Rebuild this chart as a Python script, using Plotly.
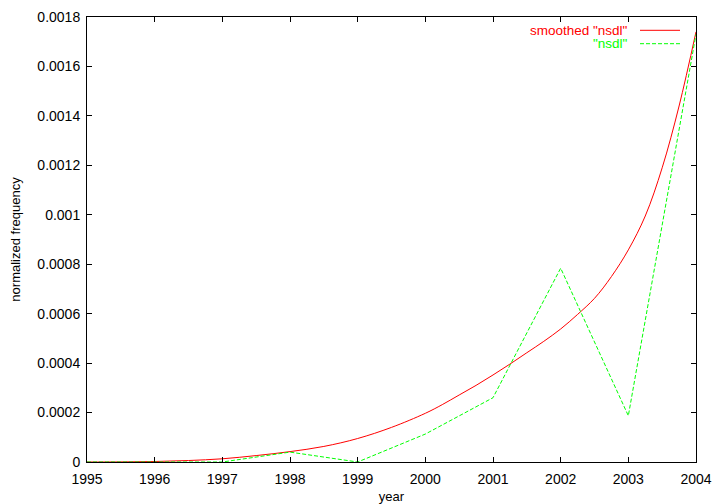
import plotly.graph_objects as go

years = [1995, 1996, 1997, 1998, 1999, 2000, 2001, 2002, 2003, 2004]
nsdl = [0, 0, 0, 0.00004, 0, 0.000113, 0.00026, 0.000784, 0.000187, 0.00173]

smooth_years = [1995, 1995.5, 1996, 1996.5, 1997, 1997.5, 1998, 1998.5, 1999, 1999.5,
                2000, 2000.25, 2000.5, 2000.75, 2001, 2001.25, 2001.5, 2001.75,
                2002, 2002.25, 2002.5, 2002.75, 2003, 2003.25, 2003.5, 2003.75, 2004]
smooth_nsdl = [0, 0.0000005, 0.000002, 0.000006, 0.000013, 0.000026, 0.000042, 0.000063,
               0.000095, 0.00014, 0.000197, 0.000232, 0.000271, 0.00031, 0.000352,
               0.000396, 0.000442, 0.000488, 0.000538, 0.000597, 0.000662, 0.00075,
               0.000858, 0.000995, 0.00119, 0.00144, 0.00174]

y_ticks = [0, 0.0002, 0.0004, 0.0006, 0.0008, 0.001, 0.0012, 0.0014, 0.0016, 0.0018]
y_tick_text = ["0", "0.0002", "0.0004", "0.0006", "0.0008", "0.001", "0.0012", "0.0014", "0.0016", "0.0018"]
x_ticks = years
x_tick_text = [str(y) for y in years]

legend_labels = ['smoothed "nsdl"', '"nsdl"']

fig = go.Figure()
fig.add_trace(go.Scatter(x=smooth_years, y=smooth_nsdl, mode="lines",
                         line=dict(color="#ff0000", width=1, shape="spline", smoothing=1.0),
                         showlegend=False))
fig.add_trace(go.Scatter(x=years, y=nsdl, mode="lines",
                         line=dict(color="#00ff00", width=1, dash="4px,2px"),
                         showlegend=False))

fam = "Liberation Sans, Arial, sans-serif"

# the page body adds an 8px offset, so the figure is 8px smaller on each axis
W, H = 712, 496
L, R, T, B = 79, 24, 9, 42
fig.update_layout(
    width=W, height=H,
    margin=dict(l=L, r=R, t=T, b=B),
    paper_bgcolor="white", plot_bgcolor="white",
    font=dict(family=fam, size=14, color="black"),
    xaxis=dict(range=[1995, 2004], tickvals=x_ticks, ticktext=x_tick_text,
               showgrid=False, zeroline=False, showline=True, linecolor="black",
               linewidth=1, mirror="allticks", ticks="inside", ticklen=5,
               tickcolor="black", automargin=False, tickfont=dict(size=14),
               ticklabelstandoff=4,
               title=dict(text="year", standoff=6, font=dict(size=13))),
    yaxis=dict(range=[0, 0.0018], tickvals=y_ticks, ticktext=y_tick_text,
               showgrid=False, zeroline=False, showline=True, linecolor="black",
               linewidth=1, mirror="allticks", ticks="inside", ticklen=5,
               tickcolor="black", automargin=False, tickfont=dict(size=14),
               ticklabelstandoff=3,
               title=dict(text="normalized frequency", standoff=14, font=dict(size=13))),
)

colors = ["#ff0000", "#00ff00"]
dashes = ["solid", "4px,2px"]
pw = W - L - R
ph = H - T - B
for i, (lab, c, d) in enumerate(zip(legend_labels, colors, dashes)):
    ypix = 22.3 + 13.4 * i
    yp = 1 - (ypix - T) / ph
    fig.add_annotation(x=(622 - L) / pw, y=yp, xref="paper", yref="paper",
                       text=lab, showarrow=False, xanchor="right", yanchor="middle",
                       font=dict(family=fam, size=13.5, color=c))
    fig.add_shape(type="line", xref="paper", yref="paper",
                  x0=(632 - L) / pw, x1=(672 - L) / pw, y0=yp, y1=yp,
                  line=dict(color=c, width=1, dash=d))

fig.write_html("out.html")
